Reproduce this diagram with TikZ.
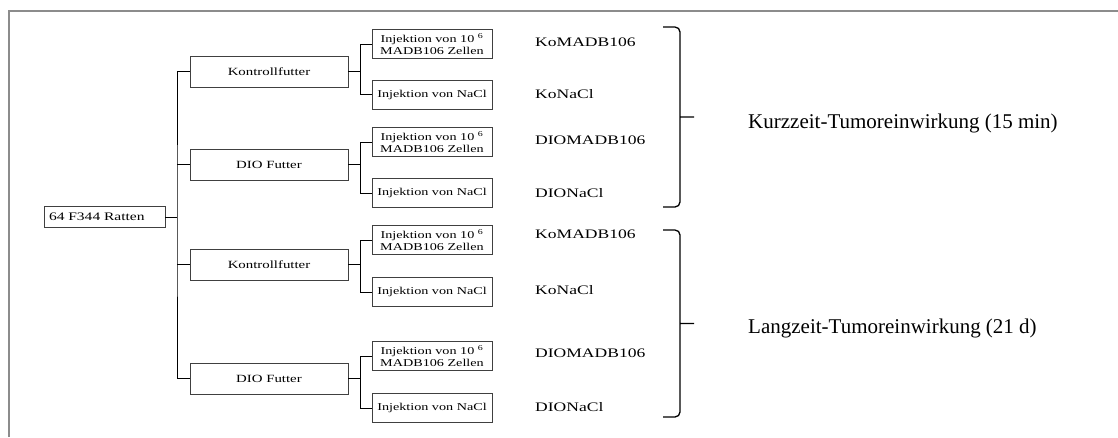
\documentclass[tikz,border=0pt]{standalone}
\usepackage{fontspec}
\setmainfont{Liberation Serif}
\newfontfamily\widefont[FakeStretch=1.35]{Liberation Serif}

\begin{document}
\begin{tikzpicture}[x=1pt, y=-1pt,
	box/.style={draw=black!75, line width=0.9pt, rectangle, inner sep=0pt, align=center, font=\widefont\fontsize{11}{12}\selectfont},
	futter/.style={box, minimum width=158, minimum height=31},
	inj/.style={box, minimum width=120, minimum height=29, font=\widefont\fontsize{10.5}{11.7}\selectfont},
	gruppe/.style={anchor=base west, inner sep=0pt, font=\widefont\fontsize{13}{14}\selectfont},
	phase/.style={anchor=base west, inner sep=0pt, font=\fontsize{21}{24}\selectfont},
	klammer/.style={line width=1.3pt, rounded corners=5pt},
	ast/.style={line width=0.8pt}]
	\useasboundingbox (0,0) rectangle (1118,437);
	\draw[black!45, line width=2.5pt] (9,437) -- (9,11) -- (1118,11);

	% Tiere und Futter
	\node[box, text width=111, inner xsep=5, minimum height=21, align=left, font=\widefont\fontsize{11.5}{13}\selectfont] (ratten) at (104.5,217) {64 F344 Ratten};
	\node[futter] (ko1) at (269,71.5) {Kontrollfutter};
	\node[futter] (dio1) at (269,164.5) {DIO Futter};
	\node[futter] (ko2) at (269,264.5) {Kontrollfutter};
	\node[futter] (dio2) at (269,378.5) {DIO Futter};

	% Injektionen
	\node[inj] (ko1m) at (432,44) {Injektion von 10~\textsuperscript{6}\\MADB106 Zellen};
	\node[inj] (ko1n) at (432,94.5) {Injektion von NaCl};
	\node[inj] (dio1m) at (432,142) {Injektion von 10~\textsuperscript{6}\\MADB106 Zellen};
	\node[inj] (dio1n) at (432,193) {Injektion von NaCl};
	\node[inj] (ko2m) at (432,240) {Injektion von 10~\textsuperscript{6}\\MADB106 Zellen};
	\node[inj] (ko2n) at (432,292) {Injektion von NaCl};
	\node[inj] (dio2m) at (432,356) {Injektion von 10~\textsuperscript{6}\\MADB106 Zellen};
	\node[inj] (dio2n) at (432,408) {Injektion von NaCl};

	% Gruppen
	\node[gruppe] (g1) at (535,46) {KoMADB106};
	\node[gruppe] (g2) at (535,98) {KoNaCl};
	\node[gruppe] (g3) at (535,144) {DIOMADB106};
	\node[gruppe] (g4) at (535,197) {DIONaCl};
	\node[gruppe] (g5) at (535,238) {KoMADB106};
	\node[gruppe] (g6) at (535,294) {KoNaCl};
	\node[gruppe] (g7) at (535,357) {DIOMADB106};
	\node[gruppe] (g8) at (535,411) {DIONaCl};

	% Verbindungen
	\coordinate (stamm) at (177,217);
	\draw[ast] (ratten.east) -- (stamm);
	\draw[ast] (ko1.west) -| (stamm) |- (dio2.west);
	\draw[ast] (dio1.west) -- (dio1.west -| stamm);
	\draw[ast] (ko2.west) -- (ko2.west -| stamm);
	\draw[ast] (ko1.east) -- ++(12,0) |- (ko1m.west);
	\draw[ast] (ko1.east) ++(12,0) |- (ko1n.west);
	\draw[ast] (dio1.east) -- ++(12,0) |- (dio1m.west);
	\draw[ast] (dio1.east) ++(12,0) |- (dio1n.west);
	\draw[ast] (ko2.east) -- ++(12,0) |- (ko2m.west);
	\draw[ast] (ko2.east) ++(12,0) |- (ko2n.west);
	\draw[ast] (dio2.east) -- ++(12,0) |- (dio2m.west);
	\draw[ast] (dio2.east) ++(12,0) |- (dio2n.west);

	% Klammern
	\coordinate (kurz spitze) at (697,117);
	\coordinate (lang spitze) at (697,323.5);
	\draw[klammer] (663,27) -| (680,112) .. controls (680,117) .. (kurz spitze)
		.. controls (680,117) .. (680,122) |- (663,207);
	\draw[klammer] (663,230) -| (680,318.5) .. controls (680,323.5) .. (lang spitze)
		.. controls (680,323.5) .. (680,328.5) |- (663,417);
	\node[phase] (kurz) at (748,128) {Kurzzeit-Tumoreinwirkung (15 min)};
	\node[phase] (lang) at (748,333) {Langzeit-Tumoreinwirkung (21 d)};
\end{tikzpicture}
\end{document}
